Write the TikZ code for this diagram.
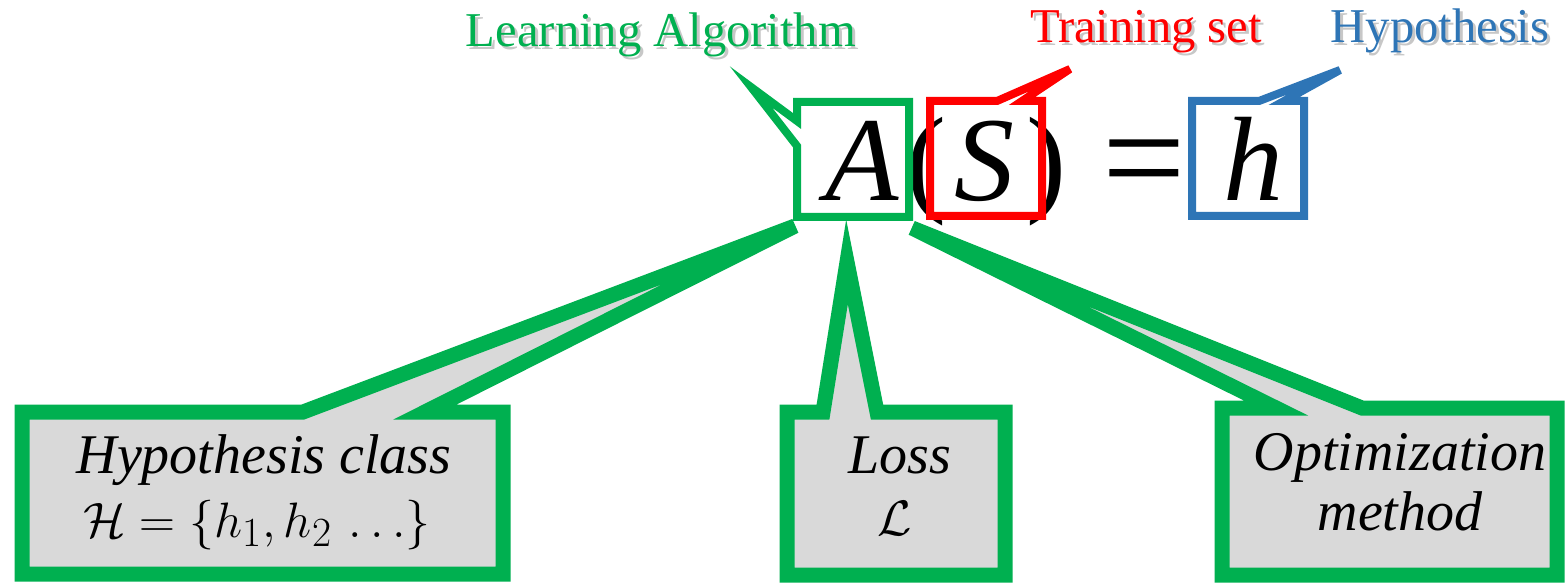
\documentclass[tikz,border=0pt]{standalone}
\usepackage{fontspec}
\setmainfont{Liberation Serif}
\definecolor{cgreen}{HTML}{00B050}
\definecolor{cred}{HTML}{FF0000}
\definecolor{cblue}{HTML}{2E75B6}
\definecolor{cgray}{HTML}{D9D9D9}
\begin{document}
\begin{tikzpicture}[x=0.5pt,y=-0.5pt,
  bigcall/.style={draw=cgreen, fill=cgray, line width=7.5pt, line join=miter},
  smallcall/.style={line width=4pt, line join=miter},
  lbl/.style={inner sep=0pt, anchor=base, font=\fontsize{24.3}{28}\selectfont},
  shadowlbl/.style={lbl, text=black!22},
  eqit/.style={inner sep=0pt, anchor=base, font=\fontsize{60}{66}\selectfont\itshape},
  equp/.style={inner sep=0pt, anchor=base, font=\fontsize{60}{66}\selectfont},
  boxtxt/.style={inner sep=0pt, anchor=base, font=\fontsize{28}{30}\selectfont\itshape}
]
\useasboundingbox[fill=white] (0,0) rectangle (1565,583);

% bottom callouts
\draw[bigcall] (22,412) -- (303,412) -- (795,226) -- (425,412) -- (503,412) -- (503,574) -- (22,574) -- cycle;
\draw[bigcall] (787,412) -- (823,412) -- (847,262) -- (877,412) -- (1005,412) -- (1005,575) -- (787,575) -- cycle;
\draw[bigcall] (1222,408) -- (1276,408) -- (912,228) -- (1362,408) -- (1557,408) -- (1557,575) -- (1222,575) -- cycle;

% equation
\node[eqit] (A) at (862,200) {A};
\node[equp] (lp) at (926,200) {(};
\node[eqit] (S) at (984,200) {S};
\node[equp] (rp) at (1046,200) {)};
\node[inner sep=0pt, anchor=base, font=\fontsize{74}{80}\selectfont] (eqs) at (1144,207) {=};
\node[eqit] (h) at (1253,200) {h};

% top callouts
\draw[smallcall, draw=cgreen] (797,102) -- (797,121) -- (751,87) -- (797,146) -- (797,217) -- (909,217) -- (909,102) -- cycle;
\draw[smallcall, draw=cred] (930,101) -- (997,101) -- (1070,69) -- (1022,101) -- (1042,101) -- (1042,216) -- (930,216) -- cycle;
\draw[smallcall, draw=cblue] (1192,101) -- (1259,101) -- (1340,70) -- (1284,101) -- (1304,101) -- (1304,216) -- (1192,216) -- cycle;

% labels with soft shadow
\node[shadowlbl] (lashadow) at (664,50) {Learning Algorithm};
\node[lbl, text=cgreen] (la) at (661,47) {Learning Algorithm};
\node[shadowlbl] (tsshadow) at (1149,46) {Training set};
\node[lbl, text=cred] (ts) at (1146,43) {Training set};
\node[shadowlbl] (hyshadow) at (1443,46) {Hypothesis};
\node[lbl, text=cblue] (hy) at (1440,43) {Hypothesis};

% box texts
\node[boxtxt] (hc1) at (264,473) {Hypothesis class};
\node[boxtxt] (hc2) at (257,537) {$\mathcal{H} = \{h_1, h_2\,\ldots\}$};
\node[boxtxt] (loss1) at (900,473) {Loss};
\node[boxtxt] (loss2) at (895,535) {$\mathcal{L}$};
\node[boxtxt] (opt1) at (1400,470) {Optimization};
\node[boxtxt] (opt2) at (1400,530) {method};
\end{tikzpicture}
\end{document}
